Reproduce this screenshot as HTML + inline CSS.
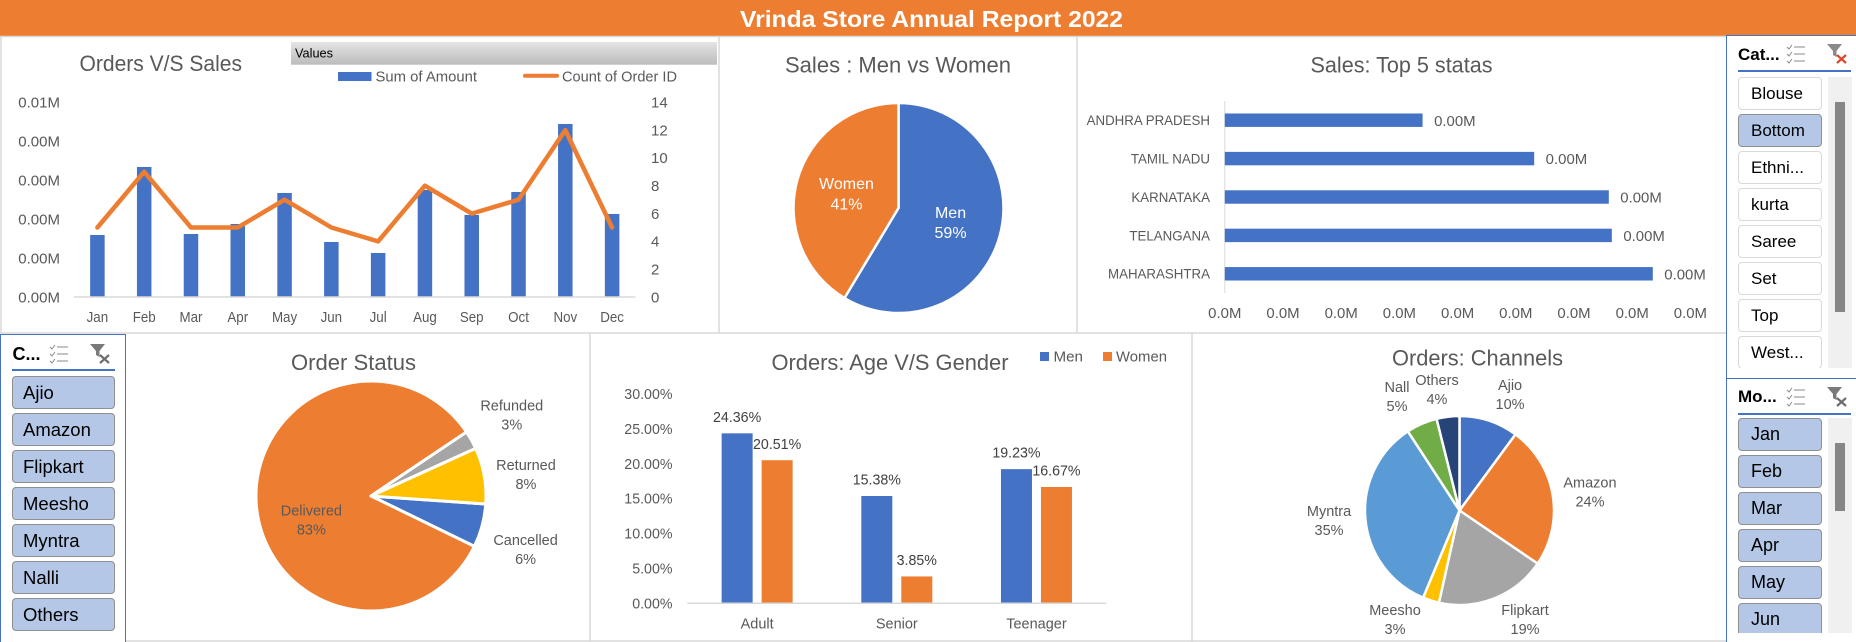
<!DOCTYPE html>
<html lang="en">
<head>
<meta charset="utf-8">
<title>Vrinda Store Annual Report 2022</title>
<style>
html,body{margin:0;padding:0;background:#fff}
body{width:1856px;height:642px;overflow:hidden;position:relative;font-family:"Liberation Sans",sans-serif}
#dash{position:absolute;left:0;top:0}
.slicer{position:absolute;background:#fff;border-left:1px solid #4472C4;border-top:1px solid #4472C4;box-sizing:border-box;overflow:hidden}
.s-head{position:absolute;font-weight:bold;color:#000;font-size:17px;line-height:20px;white-space:nowrap}
.s-rule{position:absolute;height:1.5px;background:#4472C4}
.s-list{position:absolute;overflow:hidden}
.s-btn{position:absolute;left:0;height:33px;box-sizing:border-box;border-radius:4px;border:1px solid #8f8f8f;background:#B4C7E7;color:#000;padding-left:12px;line-height:31px;white-space:nowrap}
.s-btn.off{background:#fff;border-color:#d9d9d9}
.s-track{position:absolute;background:#f0f0f0}
.s-thumb{position:absolute;background:#868686}
.s-icon{position:absolute}
</style>
</head>
<body>
<svg id="dash" width="1856" height="642" viewBox="0 0 1856 642" font-family="'Liberation Sans',sans-serif">
  <rect x="0" y="0" width="1856" height="36" fill="#ED7D31"/>
  <text x="931.5" y="27" text-anchor="middle" font-size="23" font-weight="bold" fill="#fff" textLength="383" lengthAdjust="spacingAndGlyphs">Vrinda Store Annual Report 2022</text>
  <g stroke="#d9d9d9" stroke-width="1.5" fill="none">
    <path d="M0 36.5H1727M1 36V333M0 333H1727M719 36V333M1077 36V333M590 333V642M1192 333V642M126 641H1727"/>
  </g>
  <g id="c1">
    <text x="79.5" y="71" font-size="22" fill="#595959" textLength="162.5" lengthAdjust="spacingAndGlyphs">Orders V/S Sales</text>
    <defs><linearGradient id="valGrad" x1="0" y1="0" x2="0" y2="1"><stop offset="0" stop-color="#e4e4e4"/><stop offset="1" stop-color="#bcbcbc"/></linearGradient></defs>
    <rect x="291" y="42" width="426" height="22.7" fill="url(#valGrad)"/>
    <text x="295" y="57.5" font-size="13" fill="#000" textLength="38" lengthAdjust="spacingAndGlyphs">Values</text>
    <rect x="338" y="72" width="33.5" height="9" fill="#4472C4"/>
    <text x="375.5" y="81.5" font-size="15" fill="#595959" textLength="101.5" lengthAdjust="spacingAndGlyphs">Sum of Amount</text>
    <line x1="525" y1="75.7" x2="557" y2="75.7" stroke="#ED7D31" stroke-width="4" stroke-linecap="round"/>
    <text x="562" y="81.5" font-size="15" fill="#595959" textLength="115" lengthAdjust="spacingAndGlyphs">Count of Order ID</text>
  </g>
  <g id="c2">
    <text x="785" y="72.7" font-size="22" fill="#595959" textLength="226" lengthAdjust="spacingAndGlyphs">Sales : Men vs Women</text>
  </g>
  <g id="c3">
    <text x="1310.5" y="72.7" font-size="22" fill="#595959" textLength="182" lengthAdjust="spacingAndGlyphs">Sales: Top 5 statas</text>
  </g>
  <g id="c4">
    <text x="291" y="370" font-size="22" fill="#595959" textLength="125" lengthAdjust="spacingAndGlyphs">Order Status</text>
  </g>
  <g id="c5">
    <text x="771.5" y="370" font-size="22" fill="#595959" textLength="237" lengthAdjust="spacingAndGlyphs">Orders: Age V/S Gender</text>
    <rect x="1040" y="352" width="9" height="9" fill="#4472C4"/>
    <text x="1053.5" y="361.5" font-size="14.5" fill="#595959" textLength="29.5" lengthAdjust="spacingAndGlyphs">Men</text>
    <rect x="1103" y="352" width="9" height="9" fill="#ED7D31"/>
    <text x="1116" y="361.5" font-size="14.5" fill="#595959" textLength="51" lengthAdjust="spacingAndGlyphs">Women</text>
  </g>
  <g id="c6">
    <text x="1392" y="365.7" font-size="22" fill="#595959" textLength="171" lengthAdjust="spacingAndGlyphs">Orders: Channels</text>
  </g>
</svg>

<!-- Channel slicer -->
<div class="slicer" style="left:0;top:334px;width:126px;height:308px;border-right:1px solid #4472C4">
  <div class="s-head" style="left:11.5px;top:9px;font-size:18px">C...</div>
  <svg class="s-icon" style="left:48px;top:9px" width="20" height="20" viewBox="0 0 20 20"><path d="M1 3l2 2 3-4M1 10l2 2 3-4M1 17l2 2 3-4" fill="none" stroke="#8a8a8a" stroke-width="1"/><path d="M8 3h11M8 10h11M8 17h11" stroke="#8a8a8a" stroke-width="1"/></svg>
  <svg class="s-icon" style="left:89px;top:8px" width="21" height="21" viewBox="0 0 21 21"><path d="M0 1h15L9.5 8v6L6 12V8z" fill="#7a7a7a"/><path d="M10 12l9 8M19 12l-9 8" stroke="#6e6e6e" stroke-width="2.2"/></svg>
  <div class="s-rule" style="left:10.5px;top:34px;width:103px"></div>
  <div class="s-list" style="left:10.5px;top:41px;width:103px;height:262px;font-size:18.5px">
    <div class="s-btn" style="top:0;width:103px;padding-left:10.5px">Ajio</div>
    <div class="s-btn" style="top:37px;width:103px;padding-left:10.5px">Amazon</div>
    <div class="s-btn" style="top:74px;width:103px;padding-left:10.5px">Flipkart</div>
    <div class="s-btn" style="top:111px;width:103px;padding-left:10.5px">Meesho</div>
    <div class="s-btn" style="top:148px;width:103px;padding-left:10.5px">Myntra</div>
    <div class="s-btn" style="top:185px;width:103px;padding-left:10.5px">Nalli</div>
    <div class="s-btn" style="top:222px;width:103px;padding-left:10.5px">Others</div>
  </div>
</div>

<!-- Category slicer -->
<div class="slicer" style="left:1726px;top:35px;width:130px;height:344px">
  <div class="s-head" style="left:11px;top:9px">Cat...</div>
  <svg class="s-icon" style="left:59px;top:8px" width="20" height="20" viewBox="0 0 20 20"><path d="M1 3l2 2 3-4M1 10l2 2 3-4M1 17l2 2 3-4" fill="none" stroke="#8a8a8a" stroke-width="1"/><path d="M8 3h11M8 10h11M8 17h11" stroke="#8a8a8a" stroke-width="1"/></svg>
  <svg class="s-icon" style="left:100px;top:7px" width="21" height="21" viewBox="0 0 21 21"><path d="M0 1h15L9.5 8v6L6 12V8z" fill="#8a8a8a"/><path d="M10 12l9 8M19 12l-9 8" stroke="#D9492E" stroke-width="2.2"/></svg>
  <div class="s-rule" style="left:11px;top:34px;width:113px"></div>
  <div class="s-list" style="left:11px;top:41px;width:85px;height:291px;font-size:17px">
    <div class="s-btn off" style="top:0;width:84px">Blouse</div>
    <div class="s-btn" style="top:37px;width:84px">Bottom</div>
    <div class="s-btn off" style="top:74px;width:84px">Ethni...</div>
    <div class="s-btn off" style="top:111px;width:84px">kurta</div>
    <div class="s-btn off" style="top:148px;width:84px">Saree</div>
    <div class="s-btn off" style="top:185px;width:84px">Set</div>
    <div class="s-btn off" style="top:222px;width:84px">Top</div>
    <div class="s-btn off" style="top:259px;width:84px">West...</div>
  </div>
  <div class="s-track" style="left:101px;top:41px;width:24px;height:291px"></div>
  <div class="s-thumb" style="left:108px;top:66px;width:10px;height:210px"></div>
</div>

<!-- Month slicer -->
<div class="slicer" style="left:1726px;top:378px;width:130px;height:264px">
  <div class="s-head" style="left:11px;top:8px">Mo...</div>
  <svg class="s-icon" style="left:59px;top:8px" width="20" height="20" viewBox="0 0 20 20"><path d="M1 3l2 2 3-4M1 10l2 2 3-4M1 17l2 2 3-4" fill="none" stroke="#8a8a8a" stroke-width="1"/><path d="M8 3h11M8 10h11M8 17h11" stroke="#8a8a8a" stroke-width="1"/></svg>
  <svg class="s-icon" style="left:100px;top:7px" width="21" height="21" viewBox="0 0 21 21"><path d="M0 1h15L9.5 8v6L6 12V8z" fill="#7a7a7a"/><path d="M10 12l9 8M19 12l-9 8" stroke="#6e6e6e" stroke-width="2.2"/></svg>
  <div class="s-rule" style="left:11px;top:34px;width:113px"></div>
  <div class="s-list" style="left:11px;top:39px;width:85px;height:215px;font-size:18px">
    <div class="s-btn" style="top:0;width:84px">Jan</div>
    <div class="s-btn" style="top:37px;width:84px">Feb</div>
    <div class="s-btn" style="top:74px;width:84px">Mar</div>
    <div class="s-btn" style="top:111px;width:84px">Apr</div>
    <div class="s-btn" style="top:148px;width:84px">May</div>
    <div class="s-btn" style="top:185px;width:84px">Jun</div>
  </div>
  <div class="s-track" style="left:101px;top:39px;width:24px;height:215px"></div>
  <div class="s-thumb" style="left:108px;top:64px;width:10px;height:68px"></div>
</div>

<script>
// Orders V/S Sales
const months = ['Jan','Feb','Mar','Apr','May','Jun','Jul','Aug','Sep','Oct','Nov','Dec'];
const monthlyAmount = [1592,3339,1618,1875,2671,1413,1130,2748,2106,2697,4443,2132];
const monthlyOrders = [5,9,5,5,7,5,4,8,6,7,12,5];
const amountTicks = [0,1000,2000,3000,4000,5000];
const orderTicks = [0,2,4,6,8,10,12,14];

// Sales: Men vs Women
const genderNames = ['Men','Women'];
const genderSales = [58.6,41.4];

// Sales: Top 5 states
const stateNames = ['ANDHRA PRADESH','TAMIL NADU','KARNATAKA','TELANGANA','MAHARASHTRA'];
const stateSales = [1699,2658,3299,3325,3677];
const stateTicks = [0,500,1000,1500,2000,2500,3000,3500,4000];

// Order Status
const statusNames = ['Cancelled','Delivered','Refunded','Returned'];
const statusShares = [6.1,83.4,2.6,7.9];

// Orders: Age V/S Gender
const ageGroups = ['Adult','Senior','Teenager'];
const menShares = [24.36,15.38,19.23];
const womenShares = [20.51,3.85,16.67];
const ageTicks = [0,5,10,15,20,25,30];

// Orders: Channels
const channelNames = ['Ajio','Amazon','Flipkart','Meesho','Myntra','Nall','Others'];
const channelShares = [10.1,24.4,19.0,2.8,34.5,5.3,3.9];

const BLUE = '#4472C4', ORANGE = '#ED7D31', GREY_TEXT = '#595959';
const NS = 'http://www.w3.org/2000/svg';

function shape(tag, parent, geom) {
  const el = document.createElementNS(NS, tag);
  Object.keys(geom).forEach(function (k) { el.setAttribute(k, geom[k]); });
  parent.appendChild(el);
  return el;
}
function label(parent, x, cy, str, size, fill, anchor, squeeze) {
  const el = shape('text', parent, {x: x, y: cy + size * 0.35, 'font-size': size, fill: fill, 'text-anchor': anchor});
  el.textContent = str;
  if (squeeze && squeeze !== 1) {
    el.setAttribute('textLength', (el.getComputedTextLength() * squeeze).toFixed(1));
    el.setAttribute('lengthAdjust', 'spacingAndGlyphs');
  }
  return el;
}
function millions(v, digits) { return (v / 1e6).toFixed(digits) + 'M'; }
function polar(cx, cy, r, deg) {
  const a = deg * Math.PI / 180;
  return [cx + r * Math.sin(a), cy - r * Math.cos(a)];
}

/* ---------- Orders V/S Sales ---------- */
(function () {
  const g = document.getElementById('c1');
  const left = 74, right = 635.5, base = 297, top = 102.3;
  const band = (right - left) / months.length;
  const maxAmount = amountTicks[amountTicks.length - 1];
  const maxOrders = orderTicks[orderTicks.length - 1];
  const xAt = function (i) { return left + band * (i + 0.5); };
  const yAmount = function (v) { return base - (v / maxAmount) * (base - top); };
  const yOrders = function (v) { return base - (v / maxOrders) * (base - top); };

  amountTicks.forEach(function (t) {
    const el = label(g, 60, yAmount(t), millions(t, 2), 15, GREY_TEXT, 'end');
    
    
  });
  orderTicks.forEach(function (t) {
    const el = label(g, 651, yOrders(t), String(t), 15, GREY_TEXT, 'start');
    
    
  });
  monthlyAmount.forEach(function (v, i) {
    const w = band * 0.31;
    const bar = shape('rect', g, {x: xAt(i) - w / 2, y: yAmount(v), width: w, height: base - yAmount(v), fill: BLUE});
    
    
    const tick = label(g, xAt(i), 317, months[i], 14.5, GREY_TEXT, 'middle', 0.92);
    
    
  });
  const axis = shape('line', g, {x1: left, x2: right, y1: base, y2: base, stroke: '#d9d9d9', 'stroke-width': 1.5});
  
  
  const line = shape('polyline', g, {
    points: monthlyOrders.map(function (v, i) { return xAt(i).toFixed(1) + ',' + yOrders(v).toFixed(1); }).join(' '),
    fill: 'none', stroke: ORANGE, 'stroke-width': 4.5, 'stroke-linecap': 'round', 'stroke-linejoin': 'round'
  });
  
  
})();

/* ---------- Pie helper ---------- */
function drawPie(g, prefix, opt) {
  const total = opt.values.reduce(function (a, b) { return a + b; }, 0);
  let angle = opt.start;
  opt.values.forEach(function (v, i) {
    const sweep = v / total * 360;
    const p0 = polar(opt.cx, opt.cy, opt.r, angle);
    const p1 = polar(opt.cx, opt.cy, opt.r, angle + sweep);
    const d = 'M' + opt.cx + ' ' + opt.cy + 'L' + p0[0].toFixed(2) + ' ' + p0[1].toFixed(2) +
      'A' + opt.r + ' ' + opt.r + ' 0 ' + (sweep > 180 ? 1 : 0) + ' 1 ' + p1[0].toFixed(2) + ' ' + p1[1].toFixed(2) + 'Z';
    const slice = shape('path', g, {d: d, fill: opt.colors[i], stroke: '#fff', 'stroke-width': opt.gap, 'stroke-linejoin': 'round'});
    
    
    const mid = angle + sweep / 2;
    const pos = polar(opt.cx, opt.cy, opt.labelDist, mid);
    const nudge = opt.nudge[opt.names[i]] || [0, 0];
    const lx = pos[0] + nudge[0], ly = pos[1] + nudge[1];
    const color = opt.labelColor(i);
    const nameEl = label(g, lx, ly - opt.lineGap / 2, opt.names[i], opt.labelSize, color, 'middle');
    
    
    const pctEl = label(g, lx, ly + opt.lineGap / 2, Math.round(v / total * 100) + '%', opt.labelSize, color, 'middle');
    
    
    angle += sweep;
  });
}

drawPie(document.getElementById('c2'), 'gender', {
  cx: 898.5, cy: 208, r: 105, start: 0, gap: 2.5, labelDist: 54, labelSize: 16, lineGap: 20.4,
  names: genderNames, values: genderSales, colors: [BLUE, ORANGE], nudge: {},
  labelColor: function () { return '#fff'; }
});

drawPie(document.getElementById('c4'), 'status', {
  cx: 371, cy: 496, r: 115, start: 94, gap: 3, labelDist: 160, labelSize: 14.5, lineGap: 19,
  names: statusNames, values: statusShares, colors: [BLUE, ORANGE, '#A5A5A5', '#FFC000'],
  nudge: {Cancelled: [0, 12], Delivered: [100, 13], Refunded: [1, -3], Returned: [-2.5, 7]},
  labelColor: function () { return GREY_TEXT; }
});

drawPie(document.getElementById('c6'), 'channel', {
  cx: 1459.5, cy: 510.5, r: 94.5, start: 0, gap: 2.5, labelDist: 128, labelSize: 14.5, lineGap: 19,
  names: channelNames, values: channelShares,
  colors: [BLUE, ORANGE, '#A5A5A5', '#FFC000', '#5B9BD5', '#70AD47', '#264478'],
  nudge: {Ajio: [10.6, 5.6], Amazon: [4.3, 3], Flipkart: [18.4, -10], Meesho: [-25.7, -13], Myntra: [-3, -1.6], Nall: [-11.3, 3.3], Others: [-6.9, 6]},
  labelColor: function () { return GREY_TEXT; }
});

/* ---------- Top 5 states ---------- */
(function () {
  const g = document.getElementById('c3');
  const x0 = 1224.8, unit = 58.2, top = 101, bottom = 293;
  const step = stateTicks[1] - stateTicks[0];
  const xAt = function (v) { return x0 + (v / step) * unit; };
  const band = (bottom - top) / stateNames.length;
  const yAt = function (i) { return top + band * (i + 0.5); };
  stateTicks.forEach(function (t) {
    const el = label(g, xAt(t), 313, millions(t, 1), 14.5, GREY_TEXT, 'middle', 1.03);
    
    
  });
  const axis = shape('line', g, {x1: x0, x2: x0, y1: top, y2: bottom, stroke: '#d9d9d9', 'stroke-width': 1});
  
  
  stateSales.forEach(function (v, i) {
    const h = band * 0.35;
    const bar = shape('rect', g, {x: x0, y: yAt(i) - h / 2, width: xAt(v) - x0, height: h, fill: BLUE});
    
    
    const name = label(g, 1210, yAt(i), stateNames[i], 14, GREY_TEXT, 'end', 0.95);
    
    
    const val = label(g, xAt(v) + 11.5, yAt(i) + 0.5, millions(v, 2), 14.5, GREY_TEXT, 'start', 1.03);
    
    
  });
})();

/* ---------- Age V/S Gender ---------- */
(function () {
  const g = document.getElementById('c5');
  const left = 687.3, right = 1106.3, base = 603.3, top = 394;
  const maxTick = ageTicks[ageTicks.length - 1];
  const band = (right - left) / ageGroups.length;
  const yAt = function (v) { return base - (v / maxTick) * (base - top); };
  const xAt = function (i) { return left + band * (i + 0.5); };
  const barW = 31, barGap = 9;
  ageTicks.forEach(function (t) {
    const el = label(g, 672.5, yAt(t), t.toFixed(2) + '%', 14.5, GREY_TEXT, 'end', 0.98);
    
    
  });
  function drawSeries(values, color, sign, series) {
    values.forEach(function (v, i) {
      const cx = xAt(i) + sign * (barW + barGap) / 2;
      const bar = shape('rect', g, {x: cx - barW / 2, y: yAt(v), width: barW, height: base - yAt(v), fill: color});
      
      
      const val = label(g, cx, yAt(v) - 16.5, v.toFixed(2) + '%', 14.5, '#404040', 'middle', 0.98);
      
      
    });
  }
  drawSeries(menShares, BLUE, -1, 'men');
  drawSeries(womenShares, ORANGE, 1, 'women');
  const axis = shape('line', g, {x1: left, x2: right, y1: base, y2: base, stroke: '#d9d9d9', 'stroke-width': 1.5});
  
  
  ageGroups.forEach(function (name, i) {
    const el = label(g, xAt(i), 623.3, name, 14.5, GREY_TEXT, 'middle');
    
    
  });
})();
</script>
</body>
</html>
